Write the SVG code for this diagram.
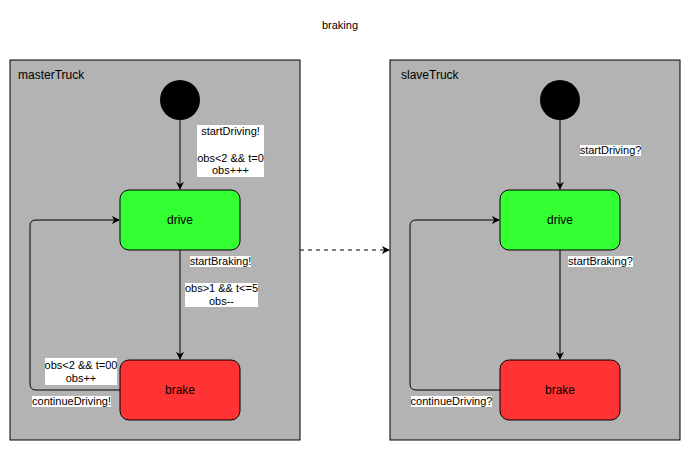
<svg xmlns="http://www.w3.org/2000/svg" width="691" height="451" viewBox="0 0 691 451">
<style>
text{font-family:"Liberation Sans",Arial,sans-serif;font-size:11px;fill:#000}
.c{text-anchor:middle}
.cont{fill:#B3B3B3;stroke:#000;stroke-width:1}
.init{fill:#000}
.drive{fill:#33FF33;stroke:#000;stroke-width:1}
.brake{fill:#FF3333;stroke:#000;stroke-width:1}
.edge{fill:none;stroke:#000;stroke-width:1}
.lbl{fill:#fff}
.st{font-size:12px}
</style>
<defs>
<marker id="arr" viewBox="0 0 10 10" refX="9" refY="5" markerWidth="8" markerHeight="8" markerUnits="userSpaceOnUse" orient="auto">
<path d="M0,0 L10,5 L0,10 L3,5 Z" fill="#000"/>
</marker>
</defs>
<text x="340" y="29" class="c">braking</text>
<g id="masterTruck">
<rect class="cont" x="10" y="60" width="290" height="380"/>
<text x="18" y="79" class="st">masterTruck</text>
</g>
<g id="slaveTruck">
<rect class="cont" x="390" y="60" width="290" height="380"/>
<text x="401" y="79" class="st">slaveTruck</text>
</g>
<g id="m_init"><circle class="init" cx="180" cy="100" r="20"/></g>
<g id="m_drive"><rect class="drive" x="120" y="190" width="120" height="60" rx="9"/><text x="180" y="224" class="c st">drive</text></g>
<g id="m_brake"><rect class="brake" x="120" y="360" width="120" height="60" rx="9"/><text x="180" y="394" class="c st">brake</text></g>
<g id="s_init"><circle class="init" cx="560" cy="100" r="20"/></g>
<g id="s_drive"><rect class="drive" x="500" y="190" width="120" height="60" rx="9"/><text x="560" y="224" class="c st">drive</text></g>
<g id="s_brake"><rect class="brake" x="500" y="360" width="120" height="60" rx="9"/><text x="560" y="394" class="c st">brake</text></g>
<g id="connectors">
<path class="edge" d="M180,120 L180,189" marker-end="url(#arr)"/>
<path class="edge" d="M180,250 L180,359" marker-end="url(#arr)"/>
<path class="edge" d="M120,390 L36,390 Q30,390 30,384 L30,226 Q30,220 36,220 L119,220" marker-end="url(#arr)"/>
<path class="edge" d="M560,120 L560,189" marker-end="url(#arr)"/>
<path class="edge" d="M560,250 L560,359" marker-end="url(#arr)"/>
<path class="edge" d="M500,390 L416,390 Q410,390 410,384 L410,226 Q410,220 416,220 L499,220" marker-end="url(#arr)"/>
<path class="edge" d="M300,250 L389,250" stroke-dasharray="4,4" marker-end="url(#arr)"/>
<rect class="lbl" x="197" y="125" width="67" height="52"/>
<text x="230.5" y="135" class="c">startDriving!</text>
<text x="230.5" y="162" class="c">obs&lt;2 &amp;&amp; t=0</text>
<text x="230.5" y="174" class="c">obs+++</text>
<rect class="lbl" x="190" y="256" width="61" height="11"/>
<text x="220.5" y="265" class="c">startBraking!</text>
<rect class="lbl" x="185" y="283" width="73" height="24"/>
<text x="221.5" y="292" class="c">obs&gt;1 &amp;&amp; t&lt;=5</text>
<text x="221.5" y="305" class="c">obs--</text>
<rect class="lbl" x="45" y="358" width="72" height="27"/>
<text x="81" y="369" class="c">obs&lt;2 &amp;&amp; t=00</text>
<text x="81" y="382" class="c">obs++</text>
<rect class="lbl" x="32" y="396" width="79" height="11"/>
<text x="71.5" y="405" class="c">continueDriving!</text>
<rect class="lbl" x="580" y="145" width="61" height="11"/>
<text x="610.5" y="154" class="c">startDriving?</text>
<rect class="lbl" x="568" y="256" width="65" height="11"/>
<text x="600.5" y="265" class="c">startBraking?</text>
<rect class="lbl" x="411" y="396" width="81" height="11"/>
<text x="451.5" y="405" class="c">continueDriving?</text>
</g>
</svg>
